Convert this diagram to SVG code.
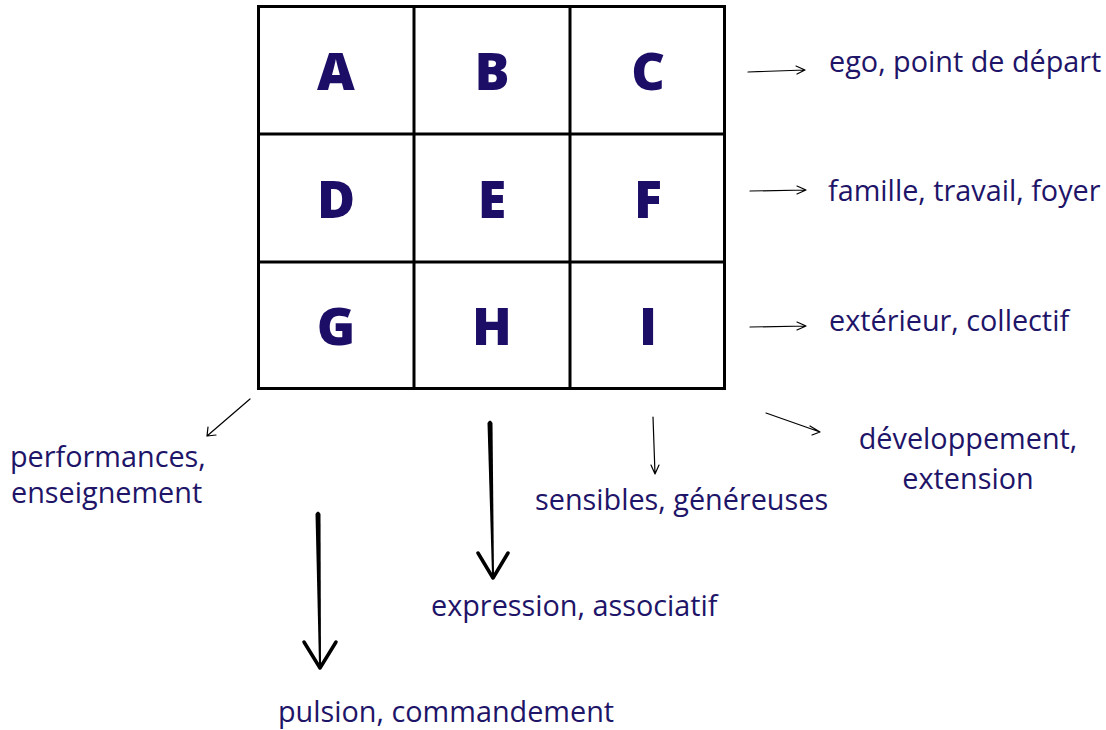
<svg xmlns="http://www.w3.org/2000/svg" width="1106" height="730" viewBox="0 0 1106 730">
<defs>
<style>
.grid{fill:none;stroke:#000;stroke-width:3}
.let{font-family:"Open Sans","Noto Sans",sans-serif;font-weight:800;font-size:52px;fill:#1c0d66;text-anchor:middle}
.lbl{font-family:"Open Sans","Noto Sans",sans-serif;font-size:28.8px;fill:#1e1468}
.thin{fill:none;stroke:#000;stroke-width:1.2;stroke-linecap:round;stroke-linejoin:round}
.thick{fill:none;stroke:#000;stroke-width:3.5;stroke-linecap:round;stroke-linejoin:round}
</style>
</defs>
<rect width="1106" height="730" fill="#fff"/>
<g id="grid">
<rect class="grid" x="258.5" y="6.5" width="466" height="382"/>
<line class="grid" x1="414" y1="6.5" x2="414" y2="388.5"/>
<line class="grid" x1="570" y1="6.5" x2="570" y2="388.5"/>
<line class="grid" x1="258.5" y1="134" x2="724.5" y2="134"/>
<line class="grid" x1="258.5" y1="262" x2="724.5" y2="262"/>
</g>
<g id="node-A"><text class="let" x="336" y="90">A</text></g>
<g id="node-B"><text class="let" x="492" y="90">B</text></g>
<g id="node-C"><text class="let" x="648" y="90">C</text></g>
<g id="node-D"><text class="let" x="336" y="218">D</text></g>
<g id="node-E"><text class="let" x="492" y="218">E</text></g>
<g id="node-F"><text class="let" x="648" y="218">F</text></g>
<g id="node-G"><text class="let" x="336" y="345">G</text></g>
<g id="node-H"><text class="let" x="492" y="345">H</text></g>
<g id="node-I"><text class="let" x="648" y="345">I</text></g>
<g id="labels">
<text class="lbl" x="829" y="72">ego, point de départ</text>
<text class="lbl" x="828" y="201">famille, travail, foyer</text>
<text class="lbl" x="829" y="331">extérieur, collectif</text>
<text class="lbl" x="10" y="467">performances,</text>
<text class="lbl" x="11" y="503">enseignement</text>
<text class="lbl" x="968" y="449" text-anchor="middle">développement,</text>
<text class="lbl" x="968" y="489" text-anchor="middle">extension</text>
<text class="lbl" x="535" y="510">sensibles, généreuses</text>
<text class="lbl" x="431" y="616">expression, associatif</text>
<text class="lbl" x="278" y="722">pulsion, commandement</text>
</g>
<g id="connectors">
<path class="thin" d="M748 72 Q776 71 805 70 M796 66 L805 70 L797 74"/>
<path class="thin" d="M750 191 L806 190 M797 186 L806 190 L797 194"/>
<path class="thin" d="M750 327 L806 326 M797 322 L806 326 L797 330"/>
<path class="thin" d="M250 399 L207 436 M208 427 L207 436 L216 435"/>
<path class="thin" d="M653 417 L655 474 M651 465 L655 474 L659 465"/>
<path class="thin" d="M766 413 L820 432 M810 426 L820 432 L812 435"/>
<path d="M487.5 423 Q490 418 492.5 423 L494 575 L492 575 Z" fill="#000"/>
<path class="thick" d="M478 553 L493 578 L508 553"/>
<path d="M315.5 514 Q318 509 320.5 514 L321 665 L319 665 Z" fill="#000"/>
<path class="thick" d="M304 642 L320 668 L336 642"/>
</g>
</svg>
